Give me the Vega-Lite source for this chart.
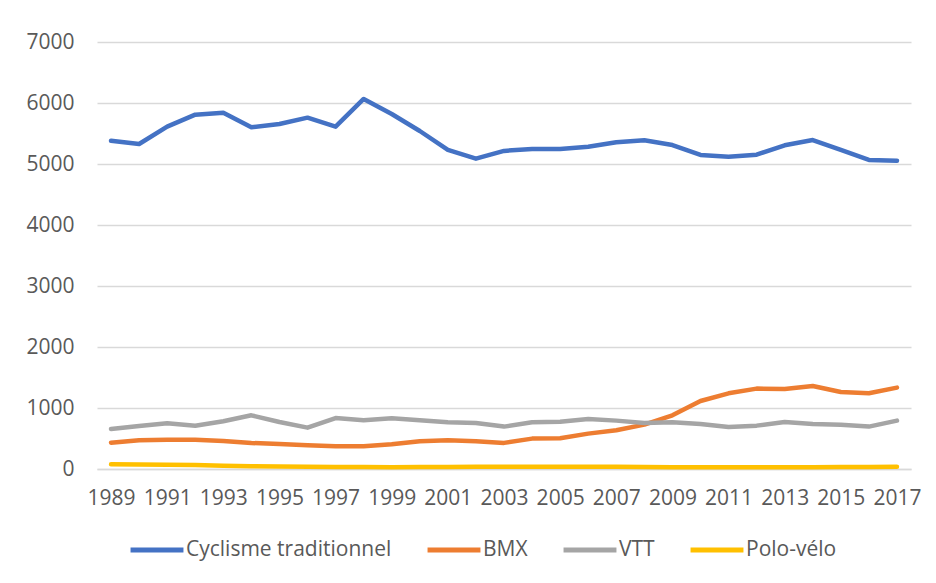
{
  "$schema": "https://vega.github.io/schema/vega-lite/v6.json",
  "width": 814,
  "height": 427,
  "autosize": {"type": "none"},
  "padding": {"left": 97, "top": 42, "right": 25, "bottom": 114},
  "background": "#ffffff",
  "config": {
    "view": {"stroke": null},
    "font": "Open Sans",
    "axis": {"labelFont": "Open Sans", "labelColor": "#595959", "labelFontSize": 21},
    "legend": {"labelFont": "Open Sans", "labelColor": "#595959", "labelFontSize": 21}
  },
  "data": {
    "values": [
      {"year": 1989, "Cyclisme traditionnel": 5382, "BMX": 432, "VTT": 656, "Polo-vélo": 78},
      {"year": 1990, "Cyclisme traditionnel": 5328, "BMX": 470, "VTT": 705, "Polo-vélo": 74},
      {"year": 1991, "Cyclisme traditionnel": 5612, "BMX": 481, "VTT": 749, "Polo-vélo": 70},
      {"year": 1992, "Cyclisme traditionnel": 5809, "BMX": 481, "VTT": 710, "Polo-vélo": 65},
      {"year": 1993, "Cyclisme traditionnel": 5841, "BMX": 459, "VTT": 782, "Polo-vélo": 55},
      {"year": 1994, "Cyclisme traditionnel": 5601, "BMX": 426, "VTT": 880, "Polo-vélo": 45},
      {"year": 1995, "Cyclisme traditionnel": 5656, "BMX": 410, "VTT": 770, "Polo-vélo": 40},
      {"year": 1996, "Cyclisme traditionnel": 5760, "BMX": 388, "VTT": 678, "Polo-vélo": 38},
      {"year": 1997, "Cyclisme traditionnel": 5612, "BMX": 372, "VTT": 836, "Polo-vélo": 32},
      {"year": 1998, "Cyclisme traditionnel": 6066, "BMX": 372, "VTT": 798, "Polo-vélo": 33},
      {"year": 1999, "Cyclisme traditionnel": 5820, "BMX": 405, "VTT": 831, "Polo-vélo": 30},
      {"year": 2000, "Cyclisme traditionnel": 5541, "BMX": 454, "VTT": 798, "Polo-vélo": 32},
      {"year": 2001, "Cyclisme traditionnel": 5230, "BMX": 470, "VTT": 765, "Polo-vélo": 34},
      {"year": 2002, "Cyclisme traditionnel": 5087, "BMX": 454, "VTT": 754, "Polo-vélo": 35},
      {"year": 2003, "Cyclisme traditionnel": 5215, "BMX": 428, "VTT": 695, "Polo-vélo": 36},
      {"year": 2004, "Cyclisme traditionnel": 5246, "BMX": 498, "VTT": 765, "Polo-vélo": 36},
      {"year": 2005, "Cyclisme traditionnel": 5246, "BMX": 503, "VTT": 776, "Polo-vélo": 37},
      {"year": 2006, "Cyclisme traditionnel": 5284, "BMX": 580, "VTT": 820, "Polo-vélo": 37},
      {"year": 2007, "Cyclisme traditionnel": 5355, "BMX": 634, "VTT": 793, "Polo-vélo": 35},
      {"year": 2008, "Cyclisme traditionnel": 5388, "BMX": 727, "VTT": 754, "Polo-vélo": 34},
      {"year": 2009, "Cyclisme traditionnel": 5311, "BMX": 880, "VTT": 765, "Polo-vélo": 30},
      {"year": 2010, "Cyclisme traditionnel": 5148, "BMX": 1115, "VTT": 738, "Polo-vélo": 30},
      {"year": 2011, "Cyclisme traditionnel": 5120, "BMX": 1241, "VTT": 689, "Polo-vélo": 30},
      {"year": 2012, "Cyclisme traditionnel": 5153, "BMX": 1318, "VTT": 711, "Polo-vélo": 30},
      {"year": 2013, "Cyclisme traditionnel": 5306, "BMX": 1311, "VTT": 771, "Polo-vélo": 30},
      {"year": 2014, "Cyclisme traditionnel": 5393, "BMX": 1361, "VTT": 738, "Polo-vélo": 30},
      {"year": 2015, "Cyclisme traditionnel": 5230, "BMX": 1262, "VTT": 727, "Polo-vélo": 32},
      {"year": 2016, "Cyclisme traditionnel": 5066, "BMX": 1241, "VTT": 695, "Polo-vélo": 33},
      {"year": 2017, "Cyclisme traditionnel": 5055, "BMX": 1334, "VTT": 793, "Polo-vélo": 35}
    ]
  },
  "transform": [
    {"fold": ["Cyclisme traditionnel", "BMX", "VTT", "Polo-vélo"], "as": ["series", "value"]}
  ],
  "mark": {"type": "line", "strokeWidth": 4.5, "strokeCap": "round", "strokeJoin": "round"},
  "encoding": {
    "x": {
      "field": "year",
      "type": "quantitative",
      "scale": {"domain": [1988.5, 2017.5], "nice": false, "zero": false},
      "axis": {
        "title": null,
        "values": [1989, 1991, 1993, 1995, 1997, 1999, 2001, 2003, 2005, 2007, 2009, 2011, 2013, 2015, 2017],
        "format": "d",
        "grid": false,
        "ticks": false,
        "domain": true,
        "domainColor": "#d9d9d9",
        "domainWidth": 1.5,
        "labelPadding": 18,
        "labelFlush": false,
        "labelOverlap": false
      }
    },
    "y": {
      "field": "value",
      "type": "quantitative",
      "scale": {"domain": [0, 7000], "nice": false},
      "axis": {
        "title": null,
        "values": [0, 1000, 2000, 3000, 4000, 5000, 6000, 7000],
        "format": "d",
        "grid": true,
        "gridColor": "#d9d9d9",
        "gridWidth": 1.5,
        "ticks": false,
        "domain": false,
        "labelPadding": 23
      }
    },
    "color": {
      "field": "series",
      "type": "nominal",
      "sort": ["Cyclisme traditionnel", "BMX", "VTT", "Polo-vélo"],
      "scale": {
        "domain": ["Cyclisme traditionnel", "BMX", "VTT", "Polo-vélo"],
        "range": ["#4472C4", "#ED7D31", "#A5A5A5", "#FFC000"]
      },
      "legend": {
        "title": null,
        "orient": "none",
        "direction": "horizontal",
        "legendX": 31,
        "legendY": 479,
        "symbolType": "stroke",
        "symbolSize": 2800,
        "symbolStrokeWidth": 5,
        "labelOffset": 0,
        "labelLimit": 0,
        "columnPadding": 25
      }
    }
  }
}
